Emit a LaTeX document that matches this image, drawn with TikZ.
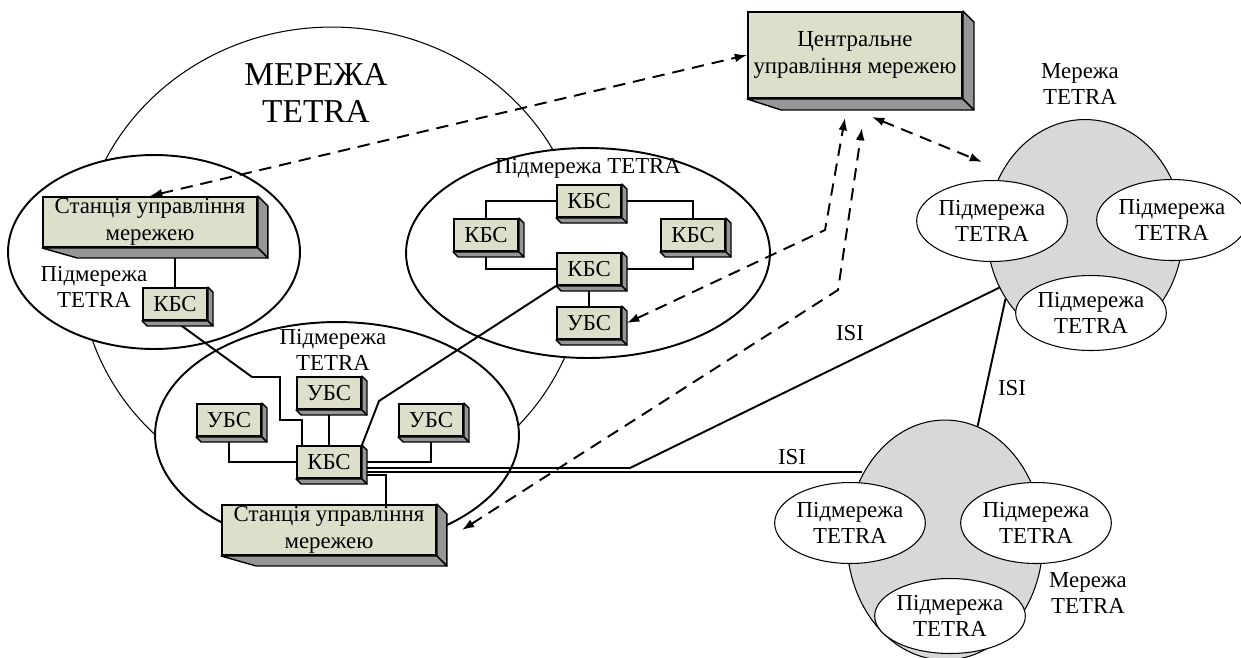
\documentclass[tikz,border=0pt]{standalone}
\usepackage{fontspec}
\setmainfont{Liberation Serif}
\usetikzlibrary{arrows.meta,calc,shapes.geometric}

\definecolor{boxfill}{RGB}{221,223,203}
\definecolor{boxside}{RGB}{150,150,150}
\definecolor{netgray}{RGB}{216,216,216}

\begin{document}
\begin{tikzpicture}[x=0.02cm,y=-0.02cm,
font=\fontsize{13}{15}\selectfont,
every node/.style={align=center},
slab/.style={draw,line width=1.1pt,fill=boxfill,inner sep=0pt},
kbs/.style={slab,minimum width=1.28cm,minimum height=0.64cm},
station/.style={slab,minimum width=4.28cm,minimum height=1cm},
subnet/.style={ellipse,draw,line width=1.1pt,fill=white,inner sep=0pt},
tetra/.style={ellipse,draw,line width=0.6pt,fill=netgray,inner sep=0pt,
  minimum width=3.92cm,minimum height=4.76cm},
cell/.style={ellipse,draw,line width=0.6pt,fill=white,inner sep=0pt,
  minimum width=2.9cm,minimum height=1.62cm},
wire/.style={line width=1.1pt},
link/.style={line width=1.1pt,dash pattern=on 7pt off 4.5pt,
  {Latex[length=7pt,width=5pt]}-{Latex[length=7pt,width=5pt]}},
side/.style={fill=boxside,draw,line width=0.8pt,line join=round}]

\useasboundingbox (0,0) rectangle (1241,657);

% the whole TETRA network and its three subnetworks
\node[ellipse,draw,line width=0.6pt,minimum width=10.1cm,minimum height=9.52cm] (mesh) at (332,265) {};
\node[font=\fontsize{19}{21}\selectfont] (meshlbl) at (316,93) {МЕРЕЖА\\TETRA};

\node[subnet,minimum width=5.84cm,minimum height=3.88cm] (lsub) at (154,252) {};
\node[subnet,minimum width=7.28cm,minimum height=4.2cm] (msub) at (588,253) {};
\node[subnet,minimum width=7.28cm,minimum height=4.52cm] (bsub) at (337,435) {};

\node (lsublbl) at (94,287) {Підмережа\\TETRA};
\node (msublbl) at (588,168) {Підмережа TETRA};
\node (bsublbl) at (333,350) {Підмережа\\TETRA};

% neighbour networks
\node[tetra,minimum height=4.5cm] (netA) at (1085,232) {};
\node[cell] (aL) at (992,221) {Підмережа\\TETRA};
\node[cell] (aR) at (1172,220) {Підмережа\\TETRA};
\node[cell,minimum height=1.5cm] (aB) at (1091,313) {Підмережа\\TETRA};
\node (netAlbl) at (1080,84) {Мережа\\TETRA};

\node[tetra,minimum height=4.8cm] (netB) at (945,540) {};
\node[cell] (bL) at (850,523) {Підмережа\\TETRA};
\node[cell] (bR) at (1036,523) {Підмережа\\TETRA};
\node[cell,minimum height=1.5cm] (bB) at (950,616) {Підмережа\\TETRA};
\node (netBlbl) at (1088,593) {Мережа\\TETRA};

% boxes
\node[slab,minimum width=4.28cm,minimum height=1.72cm] (cen) at (855,55) {Центральне\\управління мережею};

\node[station] (lsta) at (150,222) {Станція управління\\мережею};
\node[kbs] (lkbs) at (175,304) {КБС};

\node[kbs] (mk1) at (589,201) {КБС};
\node[kbs] (mk2) at (486,235) {КБС};
\node[kbs] (mk3) at (693,235) {КБС};
\node[kbs] (mhub) at (589,269) {КБС};
\node[kbs] (mubs) at (589,323) {УБС};

\node[kbs] (bubs1) at (329,393) {УБС};
\node[kbs] (bubs2) at (229,420) {УБС};
\node[kbs] (bubs3) at (431,420) {УБС};
\node[kbs] (bhub) at (329,462) {КБС};
\node[station] (bsta) at (329,530) {Станція управління\\мережею};

% wiring
\draw[wire] (lkbs.north |- lsta.south) -- (lkbs.north);

\draw[wire] (mk1.west) -| (mk2.north);
\draw[wire] (mk2.south) |- (mhub.west);
\draw[wire] (mk1.east) -| (mk3.north);
\draw[wire] (mk3.south) |- (mhub.east);
\draw[wire] (mhub.south) -- (mubs.north);

\draw[wire] (bubs2.south) |- (bhub.west);
\draw[wire] (bubs3.south) |- (bhub.east);
\draw[wire] (bubs1.south) -- (bhub.north);
\draw[wire] (lkbs.south) -- ++(77,56) -- ++(28,0) -- ++(0,43) -| ([xshift=-0.54cm]bhub.north);
\draw[wire] (mhub.south west) -- ++(-177,115) -- (bhub.north east);
\draw[wire] ([yshift=-0.26cm]bhub.east) -| ([xshift=1.14cm]bsta.north);

% ISI links
\coordinate (isiA) at ([yshift=-0.12cm]bhub.east);
\coordinate (isiB) at ([yshift=-0.2cm]bhub.east);
\draw[wire] (isiA) -- (630,468) -- (netA.213);
\draw[wire] (isiB) -- (isiB -| netB.142);
\draw[wire] (netA.220) -- (netB.74);
\node (isi1) at (850,333) {ISI};
\node (isi2) at (1012,388) {ISI};
\node (isi3) at (792,457) {ISI};

% 3d sides of the boxes
\foreach \n/\d/\s in {cen/11/34,lsta/10/35,bsta/10/35,lkbs/5/5,mk1/5/5,mk2/5/5,mk3/5/5,
  mhub/5/5,mubs/5/5,bubs1/5/5,bubs2/5/5,bubs3/5/5,bhub/5/5}{
  \filldraw[side] (\n.north east) -- ++(\d,\d) -- ($(\n.south east)+(\d,\d)$) -- (\n.south east) -- cycle;
  \filldraw[side] (\n.south west) -- (\n.south east) -- ++(\d,\d) -- ($(\n.south west)+(\s,\d)$) -- cycle;
}

% management links
\coordinate (cenA) at (872,117);
\coordinate (tipA) at (982,162);
\coordinate (cenB) at (845,118);
\coordinate (cenC) at (862,128);
\draw[link] (lsta.north) -- (cen.west);
\draw[link] (cenA) -- (tipA);
\draw[link] ([xshift=0.1cm]mubs.east) -- (825,230) -- (cenB);
\draw[link] ([xshift=0.5cm]bsta.east) -- (838,290) -- (cenC);

\end{tikzpicture}
\end{document}
